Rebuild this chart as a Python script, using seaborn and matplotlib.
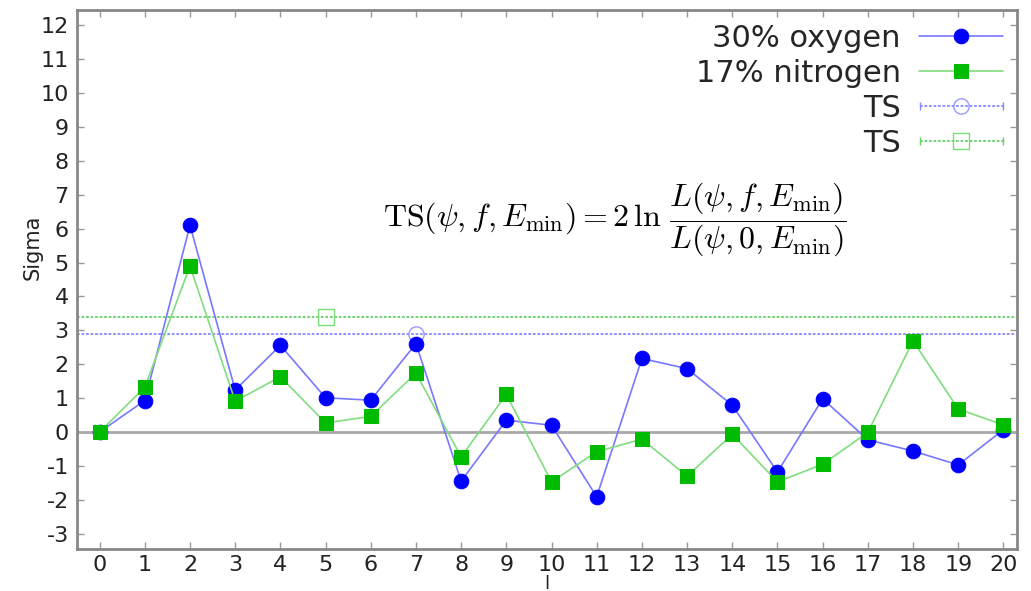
import numpy as np
import pandas as pd
import matplotlib
matplotlib.use("Agg")
import matplotlib.pyplot as plt
from matplotlib.legend_handler import HandlerErrorbar
from matplotlib.container import ErrorbarContainer
import seaborn as sns

ell = list(range(21))
oxygen = [0.0, 0.93, 6.10, 1.24, 2.56, 1.01, 0.94, 2.61, -1.45, 0.35, 0.20, -1.91,
          2.17, 1.87, 0.79, -1.18, 0.98, -0.23, -0.56, -0.97, 0.07]
nitrogen = [0.0, 1.32, 4.90, 0.91, 1.63, 0.27, 0.46, 1.74, -0.73, 1.11, -1.47, -0.58,
            -0.21, -1.30, -0.07, -1.47, -0.95, -0.01, 2.69, 0.68, 0.21]
ts_oxygen_l, ts_oxygen = 7, 2.90
ts_nitrogen_l, ts_nitrogen = 5, 3.38
labels = ["30% oxygen", "17% nitrogen", "TS", "TS"]
yticks = list(range(-3, 13))
xlim = (-0.5, 20.3)
ylim = (-3.45, 12.45)

sns.set_style("white")
plt.rcParams["font.family"] = ["DejaVu Sans"]
plt.rcParams["mathtext.fontset"] = "cm"
plt.rcParams["axes.unicode_minus"] = False

fig = plt.figure(figsize=(10.31, 5.91), dpi=100)
ax = fig.add_axes([0.0747, 0.0711, 0.9117, 0.9119])

df = pd.DataFrame({"l": ell, "oxygen": oxygen, "nitrogen": nitrogen})

ax.axhline(0, color="#a8a8a8", lw=2, zorder=1)

sns.lineplot(data=df, x="l", y="oxygen", ax=ax, color="#7878ff", lw=1.2,
             marker="o", markersize=10.5, markerfacecolor="#0000ff",
             markeredgecolor="#0000ff", label=labels[0], zorder=3)
sns.lineplot(data=df, x="l", y="nitrogen", ax=ax, color="#80dd80", lw=1.2,
             marker="s", markersize=10.5, markerfacecolor="#00bb00",
             markeredgecolor="#00bb00", label=labels[1], zorder=4)

# TS thresholds drawn as horizontal error bars spanning the full axis
eb1 = ax.errorbar([ts_oxygen_l], [ts_oxygen],
                  xerr=[[ts_oxygen_l - xlim[0] + 0.2], [xlim[1] - ts_oxygen_l + 0.2]],
                  fmt="o", mfc="none", mec="#9999ff", ms=11, ecolor="#8888ff",
                  elinewidth=1.3, capsize=3, label=labels[2], zorder=2)
eb2 = ax.errorbar([ts_nitrogen_l], [ts_nitrogen],
                  xerr=[[ts_nitrogen_l - xlim[0] + 0.2], [xlim[1] - ts_nitrogen_l + 0.2]],
                  fmt="s", mfc="none", mec="#77dd77", ms=11, ecolor="#66d066",
                  elinewidth=1.3, capsize=3, label=labels[3], zorder=2)
for eb in (eb1, eb2):
    for lc in eb[2]:
        lc.set_linestyle((0, (1.5, 1)))

ax.set_xlim(*xlim)
ax.set_ylim(*ylim)
ax.set_xticks(ell)
ax.set_yticks(yticks)
ax.tick_params(axis="both", which="both", direction="in", length=5, width=1,
               color="#999999", top=True, right=True, bottom=True, left=True,
               labelsize=16, pad=6, labelcolor="#222222")
ax.tick_params(axis="x", pad=4)
for sp in ax.spines.values():
    sp.set_color("#888888")
    sp.set_linewidth(2)

ax.set_xlabel("l", fontsize=13, color="#222222", labelpad=0)
ax.set_ylabel("Sigma", fontsize=15, color="#222222")
ax.yaxis.set_label_coords(-0.037, 0.56)

ax.text(0.572, 0.61,
        r"$\mathrm{TS}(\psi, f, E_{\min}) = 2\,\ln\,\dfrac{L(\psi, f, E_{\min})}{L(\psi, 0, E_{\min})}$",
        transform=ax.transAxes, ha="center", va="center", fontsize=23, color="black")

handles, lbls = ax.get_legend_handles_labels()
hl = 2.75
leg = ax.legend(handles, lbls, loc="upper right", frameon=False, markerfirst=False,
                fontsize=22, handlelength=hl, labelspacing=0.2,
                borderaxespad=0.05, handletextpad=0.6,
                handler_map={ErrorbarContainer: HandlerErrorbar(xerr_size=hl / 2 - 0.02)})

fig.savefig("out.png", dpi=100)
